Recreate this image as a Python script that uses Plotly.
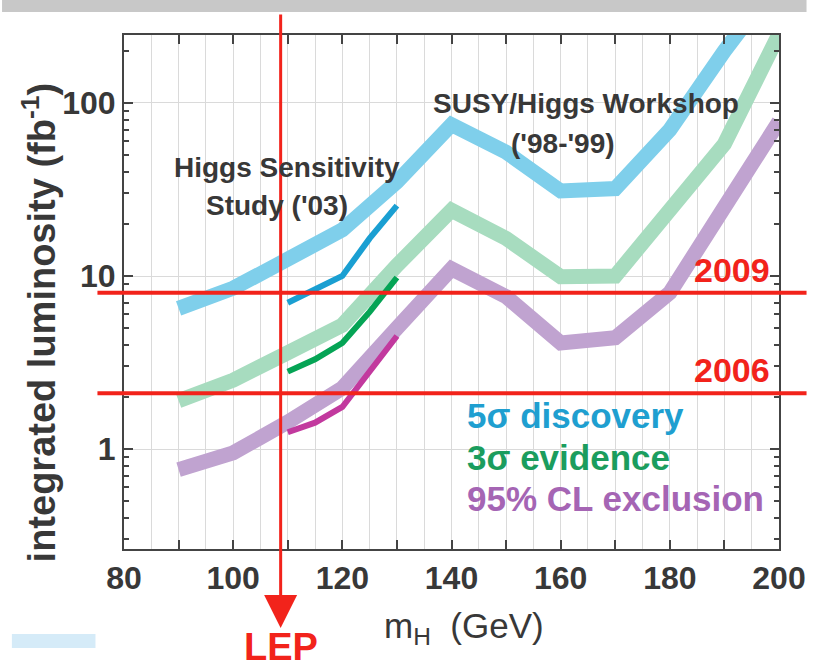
import plotly.graph_objects as go

# ---------------- data ----------------
mass = [90, 100, 110, 120, 130, 140, 150, 160, 170, 180, 190, 200]
disc_5sigma_9899 = [6.5, 8.5, 12.5, 18.5, 35, 75, 52, 31, 32, 70, 200, 520]
evid_3sigma_9899 = [1.9, 2.5, 3.6, 5.2, 11.5, 24, 16.5, 9.9, 10, 24, 58, 250]
excl_95cl_9899 = [0.76, 0.95, 1.43, 2.25, 5.0, 11, 7.6, 4.1, 4.4, 8.0, 25, 78]

mass_03 = [110, 115, 120, 125, 130]
disc_5sigma_03 = [7.0, 8.3, 10.0, 16.5, 25.5]
evid_3sigma_03 = [2.8, 3.3, 4.1, 6.2, 9.8]
excl_95cl_03 = [1.25, 1.42, 1.75, 2.8, 4.5]

milestone_lumi = [8.0, 2.1]
milestone_labels = ["2009", "2006"]
lep_limit = 108.7

x_tickvals = list(range(80, 201, 10))
x_ticktext = [str(v) if v % 20 == 0 else "" for v in x_tickvals]
y_tickvals = [1, 10, 100]
y_ticktext = ["1", "10", "100"]
y_minor = [0.3, 0.4, 0.5, 0.6, 0.7, 0.8, 0.9,
           2, 3, 4, 5, 6, 7, 8, 9,
           20, 30, 40, 50, 60, 70, 80, 90, 200]
y_grid_extra = [0.5, 2, 5, 20, 50, 200]

legend_labels = ["5σ discovery", "3σ evidence", "95% CL exclusion"]

# ---------------- styles ----------------
C_BLUE_L, C_GREEN_L, C_PURP_L = "#7fcfeb", "#a7dcbf", "#c0a3d0"
C_BLUE_D, C_GREEN_D, C_PURP_D = "#1a9fd2", "#05a455", "#c2399e"
LEG_COL = ["#1f9fd0", "#1b9d5e", "#a565b4"]
RED = "#f2231b"
DARK = "#383838"
SANS = "Liberation Sans, Arial, sans-serif"

W, H = 818, 662
L, R, T, B = 124, 28, 35, 113
PW, PH = W - L - R, H - T - B


def px(xp):
    return (xp - L) / PW


def py(yp):
    return (H - B - yp) / PH


fig = go.Figure()
for y, c in [(disc_5sigma_9899, C_BLUE_L), (evid_3sigma_9899, C_GREEN_L), (excl_95cl_9899, C_PURP_L)]:
    fig.add_trace(go.Scatter(x=mass, y=y, mode="lines", line=dict(color=c, width=15),
                             showlegend=False, hoverinfo="skip"))
for y, c in [(disc_5sigma_03, C_BLUE_D), (evid_3sigma_03, C_GREEN_D), (excl_95cl_03, C_PURP_D)]:
    fig.add_trace(go.Scatter(x=mass_03, y=y, mode="lines", line=dict(color=c, width=6),
                             showlegend=False, hoverinfo="skip"))

ymin, ymax = -0.578, 2.393
tickfont = dict(family=SANS, size=32, color=DARK, weight="bold")

fig.update_layout(
    width=W, height=H, autosize=False,
    margin=dict(l=L, r=R, t=T, b=B),
    paper_bgcolor="white", plot_bgcolor="white",
    xaxis=dict(
        range=[80, 200], tickmode="array", tickvals=x_tickvals, ticktext=x_ticktext,
        ticks="inside", ticklen=9, tickwidth=2, tickcolor="#444",
        showline=True, linecolor="#444", linewidth=2, mirror="ticks",
        showgrid=True, gridcolor="#dadada", gridwidth=1, zeroline=False,
        tickfont=tickfont, ticklabeloverflow="allow",
        minor=dict(tickmode="linear", tick0=80, dtick=5, showgrid=True,
                   gridcolor="#dadada", gridwidth=1, ticks=""),
    ),
    yaxis=dict(
        type="log", range=[ymin, ymax], tickmode="array", tickvals=y_tickvals, ticktext=y_ticktext,
        ticks="inside", ticklen=9, tickwidth=2, tickcolor="#444",
        showline=True, linecolor="#444", linewidth=2, mirror="ticks",
        showgrid=True, gridcolor="#dadada", gridwidth=1, zeroline=False,
        tickfont=tickfont, ticklabeloverflow="allow",
        minor=dict(tickmode="array", tickvals=y_minor, ticks="inside", ticklen=5,
                   tickwidth=1.5, tickcolor="#444", showgrid=False),
    ),
    yaxis2=dict(
        type="log", range=[ymin, ymax], overlaying="y", side="left",
        tickmode="array", tickvals=y_grid_extra, showticklabels=False, ticks="",
        showgrid=True, gridcolor="#dadada", gridwidth=1, showline=False, zeroline=False,
    ),
    showlegend=False,
)

shapes = []
# gray band at top
shapes.append(dict(type="rect", xref="paper", yref="paper", x0=px(0), x1=px(W), y0=py(12), y1=py(0),
                   fillcolor="#c8c8c8", line=dict(width=0), layer="above"))
# light blue box bottom-left
shapes.append(dict(type="rect", xref="paper", yref="paper", x0=px(10), x1=px(95), y0=py(648), y1=py(634),
                   fillcolor="#d5ebf8", line=dict(width=0), layer="above"))
# milestone horizontal lines
for v in milestone_lumi:
    shapes.append(dict(type="line", xref="paper", yref="y", x0=px(97), x1=px(W), y0=v, y1=v,
                       line=dict(color=RED, width=4), layer="above"))
fig.update_layout(shapes=shapes)

ann = []
# LEP arrow
ann.append(dict(x=lep_limit, xref="x", y=py(628), yref="paper", text="", showarrow=True,
                ax=0, ay=-(628 - 13), axref="pixel", ayref="pixel",
                arrowhead=2, arrowsize=2.2, arrowwidth=3, arrowcolor=RED, standoff=0))
ann.append(dict(x=lep_limit, xref="x", y=py(647), yref="paper", text="<b>LEP</b>", showarrow=False,
                xanchor="center", yanchor="middle", font=dict(family=SANS, size=38, color=RED)))
# milestone labels
for v, lab, yp in zip(milestone_lumi, milestone_labels, [270, 370]):
    ann.append(dict(x=px(783), xref="paper", y=py(yp), yref="paper", text="<b>" + lab + "</b>",
                    showarrow=False, xanchor="right", yanchor="middle",
                    font=dict(family=SANS, size=34, color=RED)))
# study labels
ann.append(dict(x=px(290), xref="paper", y=py(167), yref="paper", text="<b>Higgs Sensitivity</b>",
                showarrow=False, xanchor="center", yanchor="middle", font=dict(family=SANS, size=28, color=DARK)))
ann.append(dict(x=px(280), xref="paper", y=py(205), yref="paper", text="<b>Study ('03)</b>",
                showarrow=False, xanchor="center", yanchor="middle", font=dict(family=SANS, size=28, color=DARK)))
ann.append(dict(x=px(594), xref="paper", y=py(104), yref="paper", text="<b>SUSY/Higgs Workshop</b>",
                showarrow=False, xanchor="center", yanchor="middle", font=dict(family=SANS, size=28, color=DARK)))
ann.append(dict(x=px(570), xref="paper", y=py(143), yref="paper", text="<b>('98-'99)</b>",
                showarrow=False, xanchor="center", yanchor="middle", font=dict(family=SANS, size=28, color=DARK)))
# legend-like texts
for lab, col, yp in zip(legend_labels, LEG_COL, [415, 457, 498]):
    ann.append(dict(x=px(471), xref="paper", y=py(yp), yref="paper", text="<b>" + lab + "</b>",
                    showarrow=False, xanchor="left", yanchor="middle", font=dict(family=SANS, size=35, color=col)))
# axis titles
ann.append(dict(x=px(470), xref="paper", y=py(628), yref="paper", text="m<sub>H</sub>  (GeV)",
                showarrow=False, xanchor="center", yanchor="middle", font=dict(family=SANS, size=35, color=DARK)))
ann.append(dict(x=px(38), xref="paper", y=py(322), yref="paper", text="<b>integrated luminosity (fb<sup>-1</sup>)</b>",
                showarrow=False, xanchor="center", yanchor="middle", textangle=-90,
                font=dict(family=SANS, size=38, color=DARK)))
fig.update_layout(annotations=ann)

fig.write_html("out.html", config={"responsive": False})
